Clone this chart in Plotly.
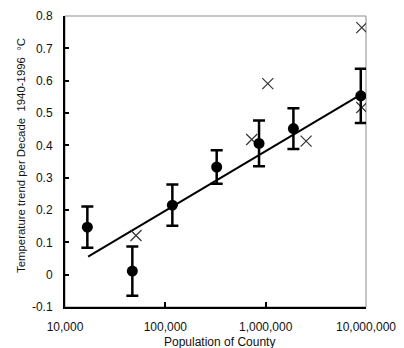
import plotly.graph_objects as go

# County population classes: mean trend with error bars
pop_mean = [16700, 46900, 117500, 325000, 859000, 1890000, 8870000]
trend_mean = [0.147, 0.011, 0.215, 0.333, 0.406, 0.452, 0.553]
trend_err = [0.064, 0.076, 0.064, 0.052, 0.071, 0.063, 0.084]

# Individual counties
pop_cty = [51000, 726000, 1050000, 2530000, 9080000, 9080000]
trend_cty = [0.121, 0.418, 0.591, 0.413, 0.764, 0.517]

# Regression line end points
pop_fit = [17000, 8870000]
trend_fit = [0.056, 0.557]

x_ticks = [10000, 100000, 1000000, 10000000]
x_tick_text = ["10,000", "100,000", "1,000,000", "10,000,000"]
y_ticks = [-0.1, 0, 0.1, 0.2, 0.3, 0.4, 0.5, 0.6, 0.7, 0.8]
y_tick_text = ["-0.1", "0", "0.1", "0.2", "0.3", "0.4", "0.5", "0.6", "0.7", "0.8"]

x_title = "Population of County"
y_title = "Temperature trend per Decade  1940-1996  °C"

fig = go.Figure()

fig.add_trace(go.Scatter(
    x=pop_fit, y=trend_fit, mode="lines",
    line=dict(color="black", width=2), showlegend=False, hoverinfo="skip"))

fig.add_trace(go.Scatter(
    x=pop_cty, y=trend_cty, mode="markers",
    marker=dict(symbol="x-thin", size=11, line=dict(color="#333333", width=1.2)),
    showlegend=False))

fig.add_trace(go.Scatter(
    x=pop_mean, y=trend_mean, mode="markers",
    marker=dict(symbol="circle", size=11, color="black"),
    error_y=dict(type="data", array=trend_err, visible=True,
                 color="black", thickness=2.5, width=6),
    showlegend=False))

font = dict(family="Liberation Sans, Arial, sans-serif", size=12, color="#111111")

fig.update_layout(
    width=404, height=348,
    margin=dict(l=65, r=38, t=16, b=41),
    paper_bgcolor="white", plot_bgcolor="white",
    font=font,
    shapes=[dict(type="rect", xref="paper", yref="paper", x0=0, y0=0, x1=1, y1=1,
                 line=dict(color="#8c8c8c", width=1), layer="below")],
    annotations=[
        dict(text=x_title, xref="paper", yref="paper", x=0.513, y=-0.12,
             xanchor="center", yanchor="middle", showarrow=False, font=font),
        dict(text=y_title, xref="paper", yref="paper", x=-0.146, y=0.519,
             xanchor="center", yanchor="middle", textangle=-90, showarrow=False,
             font=dict(family=font["family"], size=11.4, color=font["color"])),
    ],
    xaxis=dict(
        type="log", range=[4, 7],
        tickvals=x_ticks, ticktext=x_tick_text,
        ticks="inside", ticklen=5, tickwidth=2, tickcolor="black",
        showline=True, linecolor="black", linewidth=2,
        showgrid=False, zeroline=False, automargin=False,
        ticklabelstandoff=8,
    ),
    yaxis=dict(
        range=[-0.1, 0.8],
        tickvals=y_ticks, ticktext=y_tick_text,
        ticks="inside", ticklen=4, tickwidth=2, tickcolor="black",
        showline=True, linecolor="black", linewidth=2,
        showgrid=False, zeroline=False, automargin=False,
        ticklabelstandoff=8,
    ),
)

fig.write_html("out.html")
